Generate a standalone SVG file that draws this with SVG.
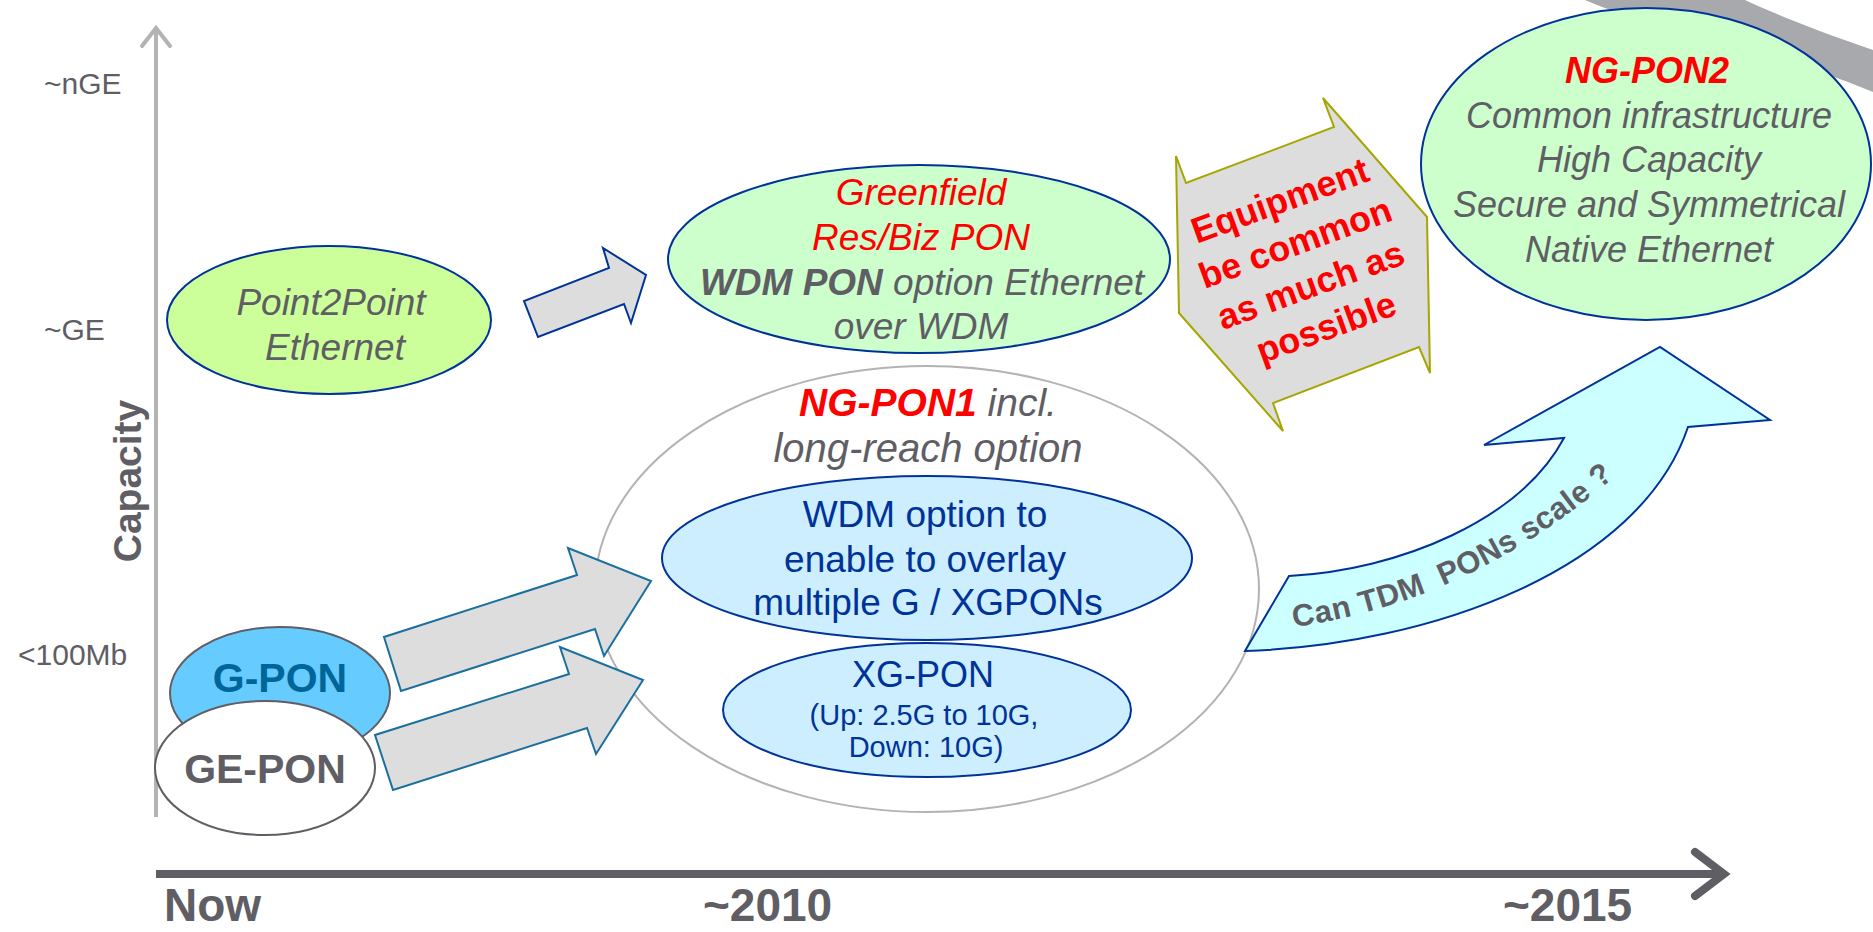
<svg xmlns="http://www.w3.org/2000/svg" width="1873" height="932" viewBox="0 0 1873 932">
<style>
text{font-family:"Liberation Sans",Arial,sans-serif}
.g{fill:#5f5e65}.r{fill:#ff0000}.b{fill:#003399}
.it{font-style:italic}.bd{font-weight:bold}
.m{text-anchor:middle}
.lab{font-size:30px;fill:#5f5e65}
.ax{font-size:46px;font-weight:bold;fill:#5f5e65}
.blk{fill:#dddddd;stroke-width:2;stroke-linejoin:miter}
</style>
<rect width="1873" height="932" fill="#ffffff"/>
<g id="swoosh">
<path d="M1585 0 C1640 25 1760 45 1873 92 L1873 50 C1815 30 1775 14 1745 0 Z" fill="#a7a9ac"/>
</g>
<g id="axes">
<line x1="156" y1="29" x2="156" y2="817" stroke="#b3b3b3" stroke-width="4"/>
<polyline points="142,46 156,28 170,46" fill="none" stroke="#b3b3b3" stroke-width="4" stroke-linecap="round"/>
<line x1="156" y1="874" x2="1722" y2="874" stroke="#5f5e65" stroke-width="8"/>
<polyline points="1695,852 1724,874 1695,896" fill="none" stroke="#5f5e65" stroke-width="8" stroke-linecap="round"/>
<text class="lab" x="44" y="94">~nGE</text>
<text class="lab" x="44" y="340">~GE</text>
<text class="lab" x="18" y="665">&lt;100Mb</text>
<text class="bd g m" font-size="39" transform="translate(141 481) rotate(-90)">Capacity</text>
<text class="ax" x="164" y="921">Now</text>
<text class="ax" x="703" y="921">~2010</text>
<text class="ax" x="1503" y="921">~2015</text>
</g>
<g id="ngpon1">
<ellipse cx="927" cy="589" rx="332" ry="223" fill="#ffffff" stroke="#b3b3b3" stroke-width="2"/>
<text class="m" x="928" y="416" font-size="39"><tspan class="r bd it">NG-PON1</tspan><tspan class="g it"> incl.</tspan></text>
<text class="g it m" x="928" y="462" font-size="40">long-reach option</text>
</g>
<g id="wdm">
<ellipse cx="927" cy="558" rx="265" ry="82" fill="#cceeff" stroke="#003399" stroke-width="2"/>
<text class="b m" x="925" y="527" font-size="37">WDM option to</text>
<text class="b m" x="925" y="572" font-size="37">enable to overlay</text>
<text class="b m" x="928" y="615" font-size="37">multiple G / XGPONs</text>
</g>
<g id="xgpon">
<ellipse cx="927" cy="710" rx="204" ry="67" fill="#cceeff" stroke="#003399" stroke-width="2"/>
<text class="b m" x="923" y="687" font-size="36">XG-PON</text>
<text class="b m" x="924" y="725" font-size="29">(Up: 2.5G to 10G,</text>
<text class="b m" x="926" y="757" font-size="29">Down: 10G)</text>
</g>
<g id="connectors">
<polygon class="blk" stroke="#003399" points="538,337 524,301 609,268 603,248 646,275 631,323 624,304"/>
<polygon class="blk" stroke="#1a6fa0" points="384,637 401,691 595,629 604,656 651,581 568,548 577,575"/>
<polygon class="blk" stroke="#1a6fa0" points="375,735 393,790 587,728 596,754 643,680 560,647 569,674"/>
</g>
<g id="gpon">
<ellipse cx="280" cy="693" rx="110" ry="66" fill="#66ccff" stroke="#5f5e65" stroke-width="2"/>
<text class="bd m" x="280" y="692" font-size="41" fill="#006699">G-PON</text>
</g>
<g id="gepon">
<ellipse cx="265" cy="768" rx="110" ry="67" fill="#ffffff" stroke="#5f5e65" stroke-width="2"/>
<text class="bd g m" x="265" y="783" font-size="41">GE-PON</text>
</g>
<g id="p2p">
<ellipse cx="329" cy="320" rx="162" ry="74" fill="#ccff99" stroke="#003399" stroke-width="2"/>
<text class="g it m" x="331" y="315" font-size="37">Point2Point</text>
<text class="g it m" x="335" y="360" font-size="37">Ethernet</text>
</g>
<g id="greenfield">
<ellipse cx="919" cy="259" rx="251" ry="94" fill="#ccffcc" stroke="#003399" stroke-width="2"/>
<text class="r it m" x="921" y="205" font-size="37">Greenfield</text>
<text class="r it m" x="921" y="250" font-size="37">Res/Biz PON</text>
<text class="m it" x="922" y="295" font-size="37"><tspan class="g bd">WDM PON</tspan><tspan class="g"> option Ethernet</tspan></text>
<text class="g it m" x="921" y="339" font-size="37">over WDM</text>
</g>
<g id="equipment">
<polygon class="blk" stroke="#a6a600" points="1323,98 1427,217 1430,373 1419,347 1273,403 1283,431 1179,313 1176,156 1186,183 1334,127"/>
<g transform="translate(1307 275) rotate(-20)">
<text class="r bd m" x="0" y="-67" font-size="36">Equipment</text>
<text class="r bd m" x="0" y="-22" font-size="36">be common</text>
<text class="r bd m" x="0" y="23" font-size="36">as much as</text>
<text class="r bd m" x="0" y="68" font-size="36">possible</text>
</g>
</g>
<g id="ngpon2">
<ellipse cx="1646" cy="164" rx="225" ry="156" fill="#ccffcc" stroke="#003399" stroke-width="2"/>
<text class="r bd it m" x="1647" y="83" font-size="36">NG-PON2</text>
<text class="g it m" x="1649" y="128" font-size="36">Common infrastructure</text>
<text class="g it m" x="1649" y="172" font-size="36">High Capacity</text>
<text class="g it m" x="1649" y="217" font-size="36">Secure and Symmetrical</text>
<text class="g it m" x="1649" y="262" font-size="36">Native Ethernet</text>
</g>
<g id="cantdm">
<path d="M1245 651 L1289 576 C1400 570 1520 520 1564 438 L1484 445 L1660 347 L1770 420 L1688 427 C1640 570 1430 645 1245 651 Z" fill="#ccffff" stroke="#003399" stroke-width="2" stroke-linejoin="miter"/>
<path id="tp" d="M1294 627 C1385 614 1505 578 1636 458" fill="none"/>
<text class="g bd" font-size="31" letter-spacing="0.5"><textPath href="#tp">Can TDM <tspan dx="8">PONs</tspan> scale ?</textPath></text>
</g>
</svg>
